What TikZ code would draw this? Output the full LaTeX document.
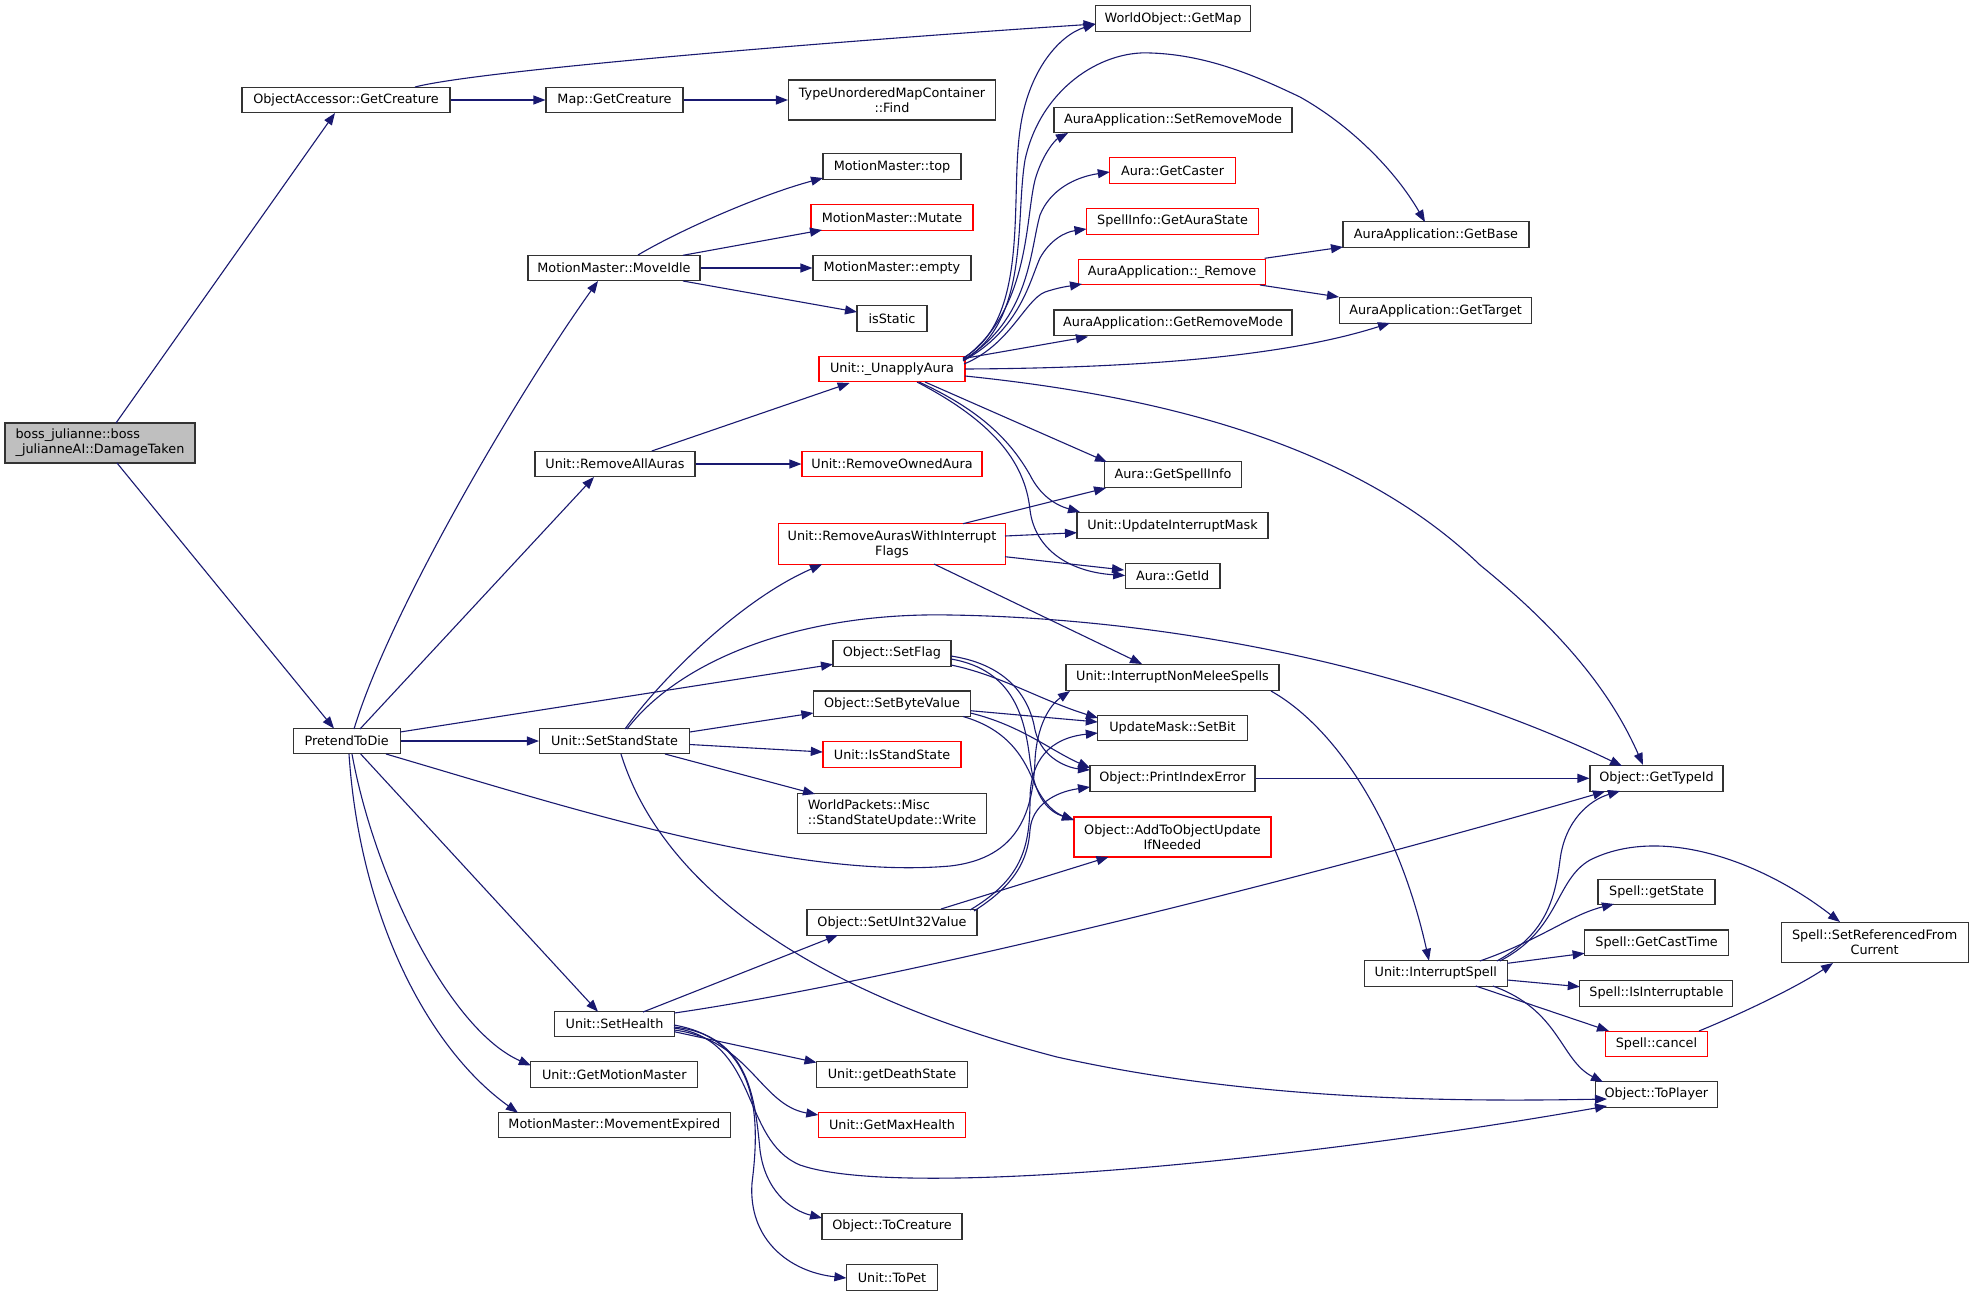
\documentclass[tikz,border=0pt]{standalone}
\usepackage{fontspec}
\setmainfont{DejaVu Sans}
\usetikzlibrary{arrows.meta,calc}
\definecolor{edgeblue}{HTML}{191970}
\definecolor{boxgray}{HTML}{BFBFBF}
\definecolor{boxred}{HTML}{FF0000}
\definecolor{boxline}{HTML}{333333}
\begin{document}
\begin{tikzpicture}[x=1pt,y=-1pt,
  nd/.style={draw=boxline, line width=1.1pt, rectangle, fill=white, minimum height=25.5pt, inner sep=0pt, font=\fontsize{12.8}{15}\selectfont, text=black},
  nd2/.style={nd, minimum height=40pt, align=center},
  rd/.style={nd, draw=boxred},
  rd2/.style={nd2, draw=boxred},
  e/.style={draw=edgeblue, line width=1.1pt, -{Triangle[length=12pt,width=9pt]}}]
\fill[white] (0,0) rectangle (1973,1296);
\useasboundingbox (0,0) rectangle (1973,1296);
% nodes
\node[nd2, fill=boxgray, align=left, minimum width=190pt] (boss) at (100,443) {boss\_julianne::boss\\\_julianneAI::DamageTaken};
\node[nd, minimum width=208pt] (oagc) at (346,100) {ObjectAccessor::GetCreature};
\node[nd, minimum width=137pt] (mapgc) at (614.5,100) {Map::GetCreature};
\node[nd, minimum width=155pt] (wogm) at (1173,18.5) {WorldObject::GetMap};
\node[nd2, minimum width=207pt] (tumc) at (892,100) {TypeUnorderedMapContainer\\::Find};
\node[nd, minimum width=138pt] (mmtop) at (892,166.5) {MotionMaster::top};
\node[rd, minimum width=162pt] (mmmut) at (892,217.3) {MotionMaster::Mutate};
\node[nd, minimum width=158pt] (mmempty) at (892,268) {MotionMaster::empty};
\node[nd, minimum width=70pt] (isstatic) at (892,318.5) {isStatic};
\node[nd, minimum width=172pt] (moveidle) at (614,268) {MotionMaster::MoveIdle};
\node[rd, minimum width=146pt] (unapply) at (892,369) {Unit::\_UnapplyAura};
\node[nd, minimum width=238pt] (setrm) at (1173,120) {AuraApplication::SetRemoveMode};
\node[rd, minimum width=125.5pt] (getcaster) at (1172.5,170.5) {Aura::GetCaster};
\node[rd, minimum width=172pt] (getaurastate) at (1172.5,221.3) {SpellInfo::GetAuraState};
\node[rd, minimum width=187.5pt] (remove) at (1172,272) {AuraApplication::\_Remove};
\node[nd, minimum width=238pt] (getrm) at (1173,322.7) {AuraApplication::GetRemoveMode};
\node[nd, minimum width=186pt] (getbase) at (1436,234.5) {AuraApplication::GetBase};
\node[nd, minimum width=192pt] (gettarget) at (1435.6,310.5) {AuraApplication::GetTarget};
\node[nd, minimum width=160pt] (ram) at (615,464) {Unit::RemoveAllAuras};
\node[rd, minimum width=180pt] (roa) at (892,464) {Unit::RemoveOwnedAura};
\node[rd2, minimum width=226.5pt, minimum height=40.6pt] (rawif) at (892,544) {Unit::RemoveAurasWithInterrupt\\Flags};
\node[nd, minimum width=137.5pt] (getspellinfo) at (1173,474.5) {Aura::GetSpellInfo};
\node[nd, minimum width=191pt] (uim) at (1172.5,525.5) {Unit::UpdateInterruptMask};
\node[nd, minimum width=94.6pt] (getid) at (1172.7,576) {Aura::GetId};
\node[nd, minimum width=118pt] (setflag) at (892,653.3) {Object::SetFlag};
\node[nd, minimum width=157pt] (setbyte) at (892,703.7) {Object::SetByteValue};
\node[rd, minimum width=138pt] (isstand) at (892,754.5) {Unit::IsStandState};
\node[nd2, align=left, minimum width=189pt] (wpwrite) at (892,813.3) {WorldPackets::Misc\\::StandStateUpdate::Write};
\node[nd, minimum width=213pt] (inms) at (1172.5,677.3) {Unit::InterruptNonMeleeSpells};
\node[nd, minimum width=149.5pt] (setbit) at (1172.5,727.8) {UpdateMask::SetBit};
\node[nd, minimum width=165pt] (pie) at (1172.5,778.3) {Object::PrintIndexError};
\node[rd2, minimum width=197pt] (atou) at (1172.5,837) {Object::AddToObjectUpdate\\IfNeeded};
\node[nd, minimum width=133pt] (gettypeid) at (1656.5,778.3) {Object::GetTypeId};
\node[nd, minimum width=107pt] (ptd) at (346.7,741) {PretendToDie};
\node[nd, minimum width=150pt] (sss) at (614.5,741) {Unit::SetStandState};
\node[nd, minimum width=170pt] (setu32) at (892,922.5) {Object::SetUInt32Value};
\node[nd, minimum width=120pt] (sethealth) at (614.5,1024) {Unit::SetHealth};
\node[nd, minimum width=167pt] (getmm) at (614.3,1074.5) {Unit::GetMotionMaster};
\node[nd, minimum width=232pt] (mmexp) at (614.3,1125) {MotionMaster::MovementExpired};
\node[nd, minimum width=150.5pt] (getdeath) at (892,1074.5) {Unit::getDeathState};
\node[rd, minimum width=147pt] (getmaxh) at (892,1125) {Unit::GetMaxHealth};
\node[nd, minimum width=140pt] (tocreature) at (892,1226.3) {Object::ToCreature};
\node[nd, minimum width=90.6pt] (topet) at (892,1277.3) {Unit::ToPet};
\node[nd, minimum width=143pt] (intspell) at (1435.8,973.3) {Unit::InterruptSpell};
\node[nd, minimum width=117pt] (getstate) at (1656.5,891.8) {Spell::getState};
\node[nd, minimum width=144pt] (getcast) at (1656.6,942.7) {Spell::GetCastTime};
\node[nd, minimum width=153pt] (isint) at (1656.4,993.3) {Spell::IsInterruptable};
\node[rd, minimum width=102.7pt] (cancel) at (1656.4,1043.8) {Spell::cancel};
\node[nd, minimum width=122pt] (toplayer) at (1656.4,1094.3) {Object::ToPlayer};
\node[nd2, minimum width=187pt] (setref) at (1874.6,942.5) {Spell::SetReferencedFrom\\Current};
% edges
\draw[e] ($(boss)+(16,-20)$) -- ($(oagc)+(-11,13)$);
\draw[e] ($(boss)+(17,20)$) -- ($(ptd)+(-12.7,-12.5)$);
\draw[e] ($(oagc)+(69,-13)$) .. controls (480,70) and (850,40) .. ($(wogm)+(-77.5,5.5)$);
\draw[e] (oagc.east) -- (mapgc.west);
\draw[e] (mapgc.east) -- (tumc.west);
\draw[e] ($(ptd)+(7.3,-12)$) .. controls (390,610) and (520,390) .. ($(moveidle)+(-16,13)$);
\draw[e] ($(ptd)+(13.3,-12)$) -- ($(ram)+(-21,13)$);
\draw[e] ($(ptd)+(53.5,-9)$) -- ($(setflag)+(-59,11)$);
\draw[e] (ptd.east) -- (sss.west);
\draw[e] ($(ptd)+(39.3,13)$) .. controls (560,805) and (790,880) .. (950,866) .. controls (1020,858) and (1033,810) .. (1035,760) .. controls (1037,725) and (1050,705) .. ($(inms)+(-102.5,13.7)$);
\draw[e] ($(sss)+(10.5,-12)$) .. controls (660,680) and (740,600) .. ($(rawif)+(-70,20.3)$);
\draw[e] ($(sss)+(12.5,-12)$) .. controls (680,660) and (800,612) .. (950,615) .. controls (1150,618) and (1400,660) .. ($(gettypeid)+(-34.5,-12.3)$);
\draw[e] ($(sss)+(75.2,-9)$) -- ($(setbyte)+(-78.6,9.3)$);
\draw[e] ($(sss)+(75.2,3.5)$) -- ($(isstand)+(-69.2,-2.5)$);
\draw[e] ($(sss)+(50.5,13)$) -- ($(wpwrite)+(-77,-19.3)$);
\draw[e] ($(sss)+(6.5,13)$) .. controls (660,880) and (800,990) .. (1057,1057) .. controls (1250,1100) and (1450,1102) .. ($(toplayer)+(-49.4,4.7)$);
\draw[e] ($(ram)+(36.8,-13)$) -- ($(unapply)+(-42.4,14)$);
\draw[e] (ram.east) -- (roa.west);
\draw[e] ($(moveidle)+(24,-13)$) .. controls (680,230) and (760,195) .. ($(mmtop)+(-69,11.5)$);
\draw[e] ($(moveidle)+(69,-12.7)$) -- ($(mmmut)+(-70,12.7)$);
\draw[e] (moveidle.east) -- (mmempty.west);
\draw[e] ($(moveidle)+(69,13)$) -- ($(isstatic)+(-35,-6.5)$);
% _UnapplyAura fan
\draw[e] ($(unapply)+(71,-11)$) .. controls (1030,320) and (1010,200) .. (1020,130) .. controls (1028,70) and (1060,35) .. ($(wogm)+(-77.5,5.5)$);
\draw[e] ($(unapply)+(72,-9)$) .. controls (1030,320) and (1015,220) .. (1025,160) .. controls (1040,90) and (1100,50) .. (1151,53) .. controls (1210,55) and (1260,78) .. (1300,97) .. controls (1350,125) and (1395,170) .. ($(getbase)+(-11,-12.5)$);
\draw[e] ($(unapply)+(71,-10)$) .. controls (1030,310) and (1025,220) .. (1035,180) .. controls (1042,155) and (1055,140) .. ($(setrm)+(-105,13)$);
\draw[e] ($(unapply)+(71,-9)$) .. controls (1030,320) and (1030,250) .. (1040,215) .. controls (1050,190) and (1075,177) .. ($(getcaster)+(-62.7,1.5)$);
\draw[e] ($(unapply)+(71,-8)$) .. controls (1020,330) and (1030,280) .. (1040,258) .. controls (1050,240) and (1065,232) .. ($(getaurastate)+(-86,7.7)$);
\draw[e] ($(unapply)+(72,-5)$) .. controls (1010,345) and (1025,300) .. (1045,292) .. controls (1060,287) and (1070,286) .. ($(remove)+(-90,12)$);
\draw[e] ($(unapply)+(72.7,-10.7)$) -- ($(getrm)+(-85,14)$);
\draw[e] ($(unapply)+(73,0)$) .. controls (1150,368) and (1290,355) .. ($(gettarget)+(-45.6,12.5)$);
\draw[e] ($(unapply)+(73,7)$) .. controls (1150,395) and (1350,440) .. (1480,565) .. controls (1560,630) and (1610,690) .. ($(gettypeid)+(-13.5,-13.3)$);
\draw[e] ($(unapply)+(33,13)$) -- ($(getspellinfo)+(-66,-12.5)$);
\draw[e] ($(unapply)+(27,13)$) .. controls (980,410) and (1010,440) .. (1030,475) .. controls (1040,495) and (1055,505) .. ($(uim)+(-92.5,-13.5)$);
\draw[e] ($(unapply)+(25,13)$) .. controls (990,420) and (1025,460) .. (1030,510) .. controls (1035,550) and (1070,572) .. ($(getid)+(-47.5,-0.5)$);
\draw[e] ($(remove)+(92.7,-13.7)$) -- ($(getbase)+(-93,12.5)$);
\draw[e] ($(remove)+(88,13)$) -- ($(gettarget)+(-96.6,-13.5)$);
% RemoveAurasWithInterruptFlags
\draw[e] ($(rawif)+(71,-20.3)$) -- ($(getspellinfo)+(-67,13.5)$);
\draw[e] ($(rawif)+(113,-8)$) -- ($(uim)+(-95.5,7.2)$);
\draw[e] ($(rawif)+(113,12.7)$) -- ($(getid)+(-48.7,-6)$);
\draw[e] ($(rawif)+(42,20)$) -- ($(inms)+(-30.5,-13.3)$);
\draw[e] ($(inms)+(98.5,13.7)$) .. controls (1340,730) and (1400,830) .. ($(intspell)+(-6.8,-12.6)$);
% SetFlag / SetByteValue / SetUInt32Value
\draw[e] ($(setflag)+(59,11.7)$) .. controls (1000,675) and (1040,700) .. ($(setbit)+(-74.5,-9.8)$);
\draw[e] ($(setflag)+(59,2.7)$) .. controls (1010,665) and (1030,700) .. (1035,730) .. controls (1042,760) and (1070,768) .. ($(pie)+(-82.5,-8.3)$);
\draw[e] ($(setflag)+(59,5.7)$) .. controls (1015,670) and (1025,720) .. (1030,760) .. controls (1035,800) and (1050,812) .. ($(atou)+(-98.5,-17)$);
\draw[e] ($(setbyte)+(78.5,7)$) -- ($(setbit)+(-74.7,-5.8)$);
\draw[e] ($(setbyte)+(78.5,9.3)$) .. controls (1020,725) and (1050,750) .. ($(pie)+(-82.5,-10.3)$);
\draw[e] ($(setbyte)+(71,12.8)$) .. controls (1010,730) and (1025,760) .. (1035,785) .. controls (1045,805) and (1055,813) .. ($(atou)+(-98.5,-17)$);
\draw[e] ($(setu32)+(49,-13.5)$) -- ($(atou)+(-64,20)$);
\draw[e] ($(setu32)+(78,-12.5)$) .. controls (1020,880) and (1030,850) .. (1030,800) .. controls (1030,760) and (1050,738) .. ($(setbit)+(-74.7,5.2)$);
\draw[e] ($(setu32)+(82,-11.5)$) .. controls (1015,885) and (1028,860) .. (1030,830) .. controls (1032,805) and (1055,792) .. ($(pie)+(-82.5,8.7)$);
\draw[e] (pie.east) -- (gettypeid.west);
% PretendToDie lower
\draw[e] ($(ptd)+(14,13)$) -- ($(sethealth)+(-16.5,-12.3)$);
\draw[e] ($(ptd)+(5.3,13)$) .. controls (375,880) and (450,1030) .. ($(getmm)+(-83.5,-9)$);
\draw[e] ($(ptd)+(2.3,13)$) .. controls (360,920) and (430,1050) .. ($(mmexp)+(-96.4,-12.3)$);
% SetHealth
\draw[e] ($(sethealth)+(28.5,-12)$) -- ($(setu32)+(-54,12.5)$);
\draw[e] ($(sethealth)+(60,-11)$) .. controls (900,980) and (1300,880) .. ($(gettypeid)+(-51.5,13.2)$);
\draw[e] ($(sethealth)+(59.8,7.7)$) -- ($(getdeath)+(-75.5,-12)$);
\draw[e] ($(sethealth)+(59.8,6)$) .. controls (750,1040) and (760,1105) .. ($(getmaxh)+(-73.7,-10)$);
\draw[e] ($(sethealth)+(59.5,4)$) .. controls (760,1040) and (740,1140) .. (800,1165) .. controls (900,1200) and (1300,1160) .. ($(toplayer)+(-49.4,11.7)$);
\draw[e] ($(sethealth)+(59.5,3)$) .. controls (750,1035) and (755,1100) .. (760,1150) .. controls (765,1190) and (790,1210) .. ($(tocreature)+(-70,-8.3)$);
\draw[e] ($(sethealth)+(59.5,1)$) .. controls (760,1040) and (760,1120) .. (752,1183) .. controls (748,1240) and (790,1272) .. ($(topet)+(-45.6,0.7)$);
% InterruptSpell
\draw[e] ($(intspell)+(44,-12.3)$) .. controls (1540,940) and (1570,915) .. ($(getstate)+(-42.5,12.2)$);
\draw[e] ($(intspell)+(71.5,-10)$) -- ($(getcast)+(-72,10.6)$);
\draw[e] ($(intspell)+(71.5,6.7)$) -- ($(isint)+(-76.6,-6.6)$);
\draw[e] ($(intspell)+(40,12.7)$) -- ($(cancel)+(-47.4,-12.8)$);
\draw[e] ($(intspell)+(57,12.7)$) .. controls (1560,1010) and (1560,1060) .. ($(toplayer)+(-53.4,-12.3)$);
\draw[e] ($(intspell)+(61,-12.3)$) .. controls (1545,935) and (1555,900) .. (1560,860) .. controls (1565,820) and (1590,800) .. ($(gettypeid)+(-36.5,12.7)$);
\draw[e] ($(intspell)+(64,-12.3)$) .. controls (1560,930) and (1555,880) .. (1590,860) .. controls (1660,825) and (1760,860) .. ($(setref)+(-34.6,-20.5)$);
\draw[e] ($(cancel)+(42.6,-12.8)$) .. controls (1750,1010) and (1800,985) .. ($(setref)+(-41.6,20.5)$);
\end{tikzpicture}
\end{document}
